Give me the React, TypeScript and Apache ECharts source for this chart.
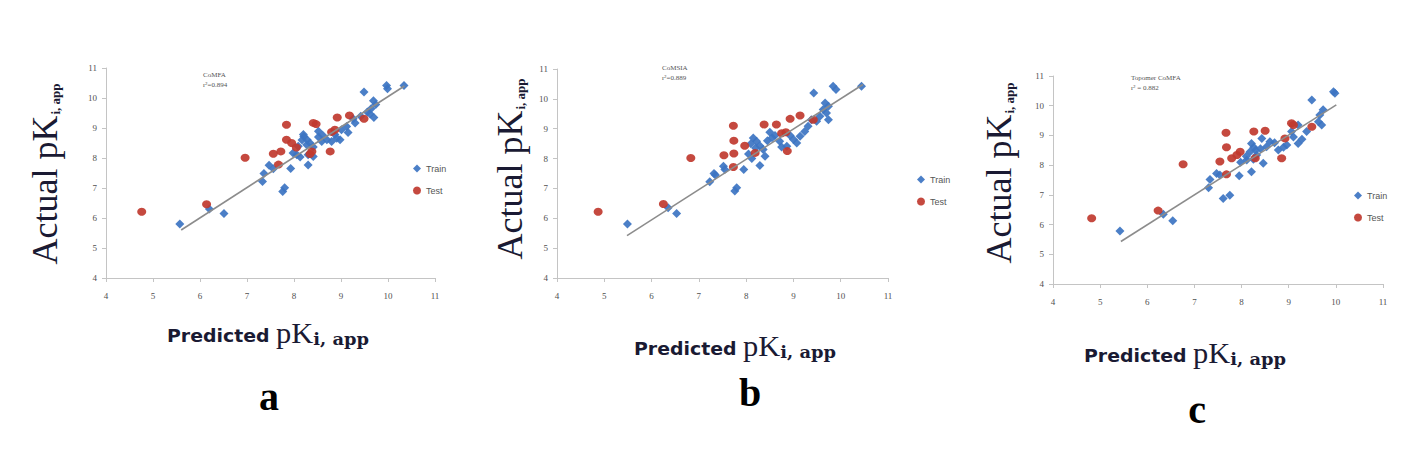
import React, { useEffect, useRef } from "react";
import * as echarts from "echarts";

// ---------- data ----------
const axisMin = 4;
const axisMax = 11;
const axisStep = 1;

const trainA: number[][] = [
  [5.57, 5.8], [6.2, 6.3], [6.51, 6.15], [7.33, 7.22], [7.36, 7.48], [7.47, 7.76], [7.56, 7.64],
  [7.76, 6.88], [7.8, 7.01], [7.93, 7.65], [8.06, 8.11], [8.13, 8.03], [8.3, 7.77], [8.21, 8.72],
  [8.28, 8.61], [8.34, 8.5], [8.41, 8.37], [8.41, 8.05], [8.52, 8.89], [8.61, 8.76], [8.7, 8.61],
  [8.17, 8.6], [8.27, 8.44], [8.09, 8.39], [7.98, 8.17], [8.3, 8.11], [8.52, 8.7], [8.59, 8.55],
  [8.8, 8.55], [8.87, 8.78], [8.98, 8.61], [9.01, 8.94], [9.12, 9.05], [9.15, 8.85], [9.26, 9.31],
  [9.3, 9.17], [9.42, 9.39], [9.56, 9.53], [9.62, 9.47], [9.64, 9.64], [9.7, 9.35], [9.69, 9.91],
  [9.74, 9.78], [9.49, 10.2], [9.97, 10.42], [9.99, 10.31], [10.34, 10.42], [8.2, 8.78], [8.91, 8.66],
];
const testA: number[][] = [
  [4.76, 6.21], [6.14, 6.46], [6.96, 8.01], [7.84, 9.11], [7.84, 8.61], [7.95, 8.5], [7.56, 8.14],
  [7.72, 8.22], [7.67, 7.78], [8.41, 9.17], [8.47, 9.13], [8.92, 9.35], [9.18, 9.42], [9.49, 9.31],
  [8.8, 8.87], [8.87, 8.94], [8.77, 8.22], [8.38, 8.22], [8.34, 8.13], [8.05, 8.35],
];
const fitA: number[][] = [[5.6, 5.6], [10.35, 10.4]];

const trainB: number[][] = [
  [5.49, 5.81], [6.35, 6.35], [6.53, 6.16], [7.23, 7.22], [7.32, 7.5], [7.52, 7.74], [7.55, 7.63],
  [7.76, 6.91], [7.8, 7.02], [7.95, 7.63], [8.12, 8.0], [8.29, 7.77], [8.15, 8.69], [8.22, 8.58],
  [8.29, 8.43], [8.36, 8.3], [8.4, 8.08], [8.5, 8.88], [8.61, 8.77], [8.71, 8.58], [8.75, 8.39],
  [8.86, 8.41], [8.93, 8.77], [9.0, 8.64], [9.07, 8.52], [9.14, 8.75], [9.24, 8.91], [9.31, 9.08],
  [9.38, 9.3], [9.49, 9.25], [9.56, 9.42], [9.43, 10.2], [9.67, 9.86], [9.74, 9.75], [9.63, 9.64],
  [9.7, 9.53], [9.74, 9.3], [9.84, 10.42], [9.9, 10.31], [10.44, 10.42], [8.05, 8.15], [8.2, 8.35],
  [8.45, 8.6], [8.1, 8.5], [7.35, 7.45], [8.55, 8.7],
];
const testB: number[][] = [
  [4.87, 6.22], [6.25, 6.48], [6.83, 8.02], [7.73, 9.1], [7.74, 8.6], [7.53, 8.11], [7.74, 8.17],
  [7.97, 8.43], [7.73, 7.72], [8.38, 9.14], [8.64, 9.14], [8.93, 9.33], [9.14, 9.44], [9.42, 9.3],
  [8.84, 8.88], [8.87, 8.25], [8.19, 8.19], [8.75, 8.85],
];
const fitB: number[][] = [[5.48, 5.42], [10.47, 10.48]];

const trainC: number[][] = [
  [5.42, 5.78], [6.34, 6.35], [6.54, 6.13], [7.3, 7.24], [7.33, 7.52], [7.47, 7.72], [7.54, 7.67],
  [7.61, 6.88], [7.75, 6.99], [7.95, 7.64], [8.11, 8.17], [8.21, 7.78], [8.21, 8.73], [8.26, 8.6],
  [8.18, 8.45], [8.32, 8.34], [8.46, 8.06], [8.43, 8.9], [8.53, 8.62], [8.6, 8.79], [8.78, 8.51],
  [8.89, 8.6], [8.96, 8.68], [9.2, 8.73], [9.28, 8.87], [9.38, 9.13], [9.06, 9.13], [9.2, 9.35],
  [9.49, 10.19], [9.66, 9.69], [9.73, 9.86], [9.63, 9.46], [9.7, 9.35], [9.95, 10.47], [9.98, 10.42],
  [8.1, 8.3], [8.3, 8.5], [8.4, 8.55], [8.7, 8.75], [9.1, 8.95], [7.98, 8.1], [8.25, 8.2],
];
const testC: number[][] = [
  [4.82, 6.21], [6.23, 6.47], [6.76, 8.03], [7.67, 9.09], [7.68, 8.6], [7.54, 8.12], [7.79, 8.23],
  [7.9, 8.34], [7.68, 7.69], [8.26, 9.13], [8.5, 9.16], [9.06, 9.41], [9.49, 9.29], [8.92, 8.9],
  [8.85, 8.23], [8.29, 8.23], [7.97, 8.45], [9.1, 9.35],
];
const fitC: number[][] = [[5.44, 5.43], [10.01, 10.03]];

const panelNotes = ["CoMFA\nr²=0.894", "CoMSIA\nr²=0.889", "Topomer CoMFA\nr² = 0.882"];
const panelLetters = ["a", "b", "c"];
const seriesNames = ["Train", "Test"];

// ---------- layout / style ----------
const BLUE = "#3c74c2";
const RED = "#c0392f";
const TITLE_COLOR = "#1a1a33";

const grids = [
  { left: 106, top: 68, width: 329, height: 210 },
  { left: 557, top: 69, width: 331, height: 209 },
  { left: 1053, top: 76, width: 330, height: 208 },
];
const legendPos = [
  { left: 408, top: 159 },
  { left: 912, top: 170 },
  { left: 1349, top: 186 },
];
const notePos = [
  { x: 203, y: 70 },
  { x: 662, y: 63 },
  { x: 1131, y: 73 },
];
const yTitlePos = [
  { x: 43, y: 174 },
  { x: 508, y: 169 },
  { x: 997, y: 173 },
];
const xTitlePos = [
  { x: 268, y: 332 },
  { x: 735, y: 345 },
  { x: 1185, y: 352 },
];
const letterPos = [
  { x: 269, y: 396 },
  { x: 750, y: 392 },
  { x: 1197, y: 409 },
];

const trains = [trainA, trainB, trainC];
const tests = [testA, testB, testC];
const fits = [fitA, fitB, fitC];

function buildOption() {
  const axisCommon = {
    type: "value" as const,
    min: axisMin,
    max: axisMax,
    interval: axisStep,
    splitLine: { show: false },
    axisLine: { show: true, onZero: false, lineStyle: { color: "#c4c4c4", width: 1 } },
    axisTick: { show: true, length: 4, lineStyle: { color: "#c4c4c4" } },
    axisLabel: { fontFamily: "Liberation Serif", fontSize: 9, color: "#505050" },
  };

  const xAxis = grids.map((_, i) => ({
    ...axisCommon,
    gridIndex: i,
    axisLabel: { ...axisCommon.axisLabel, margin: 13 },
  }));
  const yAxis = grids.map((_, i) => ({
    ...axisCommon,
    gridIndex: i,
    axisLabel: { ...axisCommon.axisLabel, margin: 9 },
  }));

  const series: any[] = [];
  grids.forEach((_, i) => {
    series.push({
      name: seriesNames[0],
      type: "scatter",
      xAxisIndex: i,
      yAxisIndex: i,
      data: trains[i],
      symbol: "diamond",
      symbolSize: [9, 9],
      itemStyle: { color: BLUE, opacity: 0.92 },
      z: 2,
    });
    series.push({
      name: seriesNames[1],
      type: "scatter",
      xAxisIndex: i,
      yAxisIndex: i,
      data: tests[i],
      symbol: "circle",
      symbolSize: [9, 8],
      itemStyle: { color: RED, opacity: 0.92 },
      z: 2,
    });
    series.push({
      name: "fit" + i,
      type: "line",
      xAxisIndex: i,
      yAxisIndex: i,
      data: fits[i],
      showSymbol: false,
      symbol: "none",
      lineStyle: { color: "#8c8c8c", width: 1.6 },
      z: 3,
      silent: true,
    });
  });

  const legend = legendPos.map((p) => ({
    orient: "vertical" as const,
    left: p.left,
    top: p.top,
    itemWidth: 8,
    itemHeight: 8,
    itemGap: 13,
    textStyle: { fontFamily: "Liberation Sans", fontSize: 9, color: "#555" },
    data: [
      { name: seriesNames[0], icon: "diamond" },
      { name: seriesNames[1], icon: "circle" },
    ],
  }));

  const graphic: any[] = [];
  grids.forEach((_, i) => {
    graphic.push({
      type: "text",
      x: notePos[i].x,
      y: notePos[i].y,
      style: {
        text: panelNotes[i],
        fontFamily: "Liberation Serif",
        fontSize: 7,
        lineHeight: 10,
        fill: "#555",
        align: "left",
        verticalAlign: "top",
      },
    });
    graphic.push({
      type: "text",
      x: yTitlePos[i].x,
      y: yTitlePos[i].y,
      rotation: Math.PI / 2,
      style: {
        text: "{a|Actual pK}{b|i, app}",
        align: "center",
        verticalAlign: "middle",
        fill: TITLE_COLOR,
        rich: {
          a: { fontFamily: "Liberation Serif", fontSize: 36, fill: TITLE_COLOR, lineHeight: 40, verticalAlign: "bottom" },
          b: { fontFamily: "Liberation Serif", fontWeight: "bold", fontSize: 13, fill: TITLE_COLOR, lineHeight: 16, verticalAlign: "bottom", padding: [0, 0, 1, 1] },
        },
      },
    });
    graphic.push({
      type: "text",
      x: xTitlePos[i].x,
      y: xTitlePos[i].y,
      scaleX: 1.05,
      style: {
        text: "{a|Predicted }{b|pK}{c|i, app}",
        align: "center",
        verticalAlign: "middle",
        fill: TITLE_COLOR,
        rich: {
          a: { fontFamily: "DejaVu Sans", fontWeight: "bold", fontSize: 18, fill: TITLE_COLOR, lineHeight: 23, verticalAlign: "bottom", padding: [0, 0, 3, 0] },
          b: { fontFamily: "Liberation Serif", fontSize: 29, fill: TITLE_COLOR, lineHeight: 32, verticalAlign: "bottom" },
          c: { fontFamily: "DejaVu Serif", fontWeight: "bold", fontSize: 17, fill: TITLE_COLOR, lineHeight: 19, verticalAlign: "bottom" },
        },
      },
    });
    graphic.push({
      type: "text",
      x: letterPos[i].x,
      y: letterPos[i].y,
      style: {
        text: panelLetters[i],
        fontFamily: "Liberation Serif",
        fontWeight: "bold",
        fontSize: 40,
        fill: "#000",
        align: "center",
        verticalAlign: "middle",
      },
    });
  });

  return {
    animation: false,
    backgroundColor: "#fff",
    grid: grids.map((g) => ({ ...g, containLabel: false })),
    xAxis,
    yAxis,
    legend,
    series,
    graphic,
  };
}

export default function App() {
  const ref = useRef<HTMLDivElement>(null);
  useEffect(() => {
    if (!ref.current) return;
    const chart = echarts.init(ref.current, undefined, { renderer: "svg" });
    chart.setOption(buildOption() as any);
    return () => chart.dispose();
  }, []);
  return (
    <div
      ref={ref}
      style={{ position: "absolute", left: 0, top: 0, width: 1425, height: 458, background: "#fff" }}
    />
  );
}
